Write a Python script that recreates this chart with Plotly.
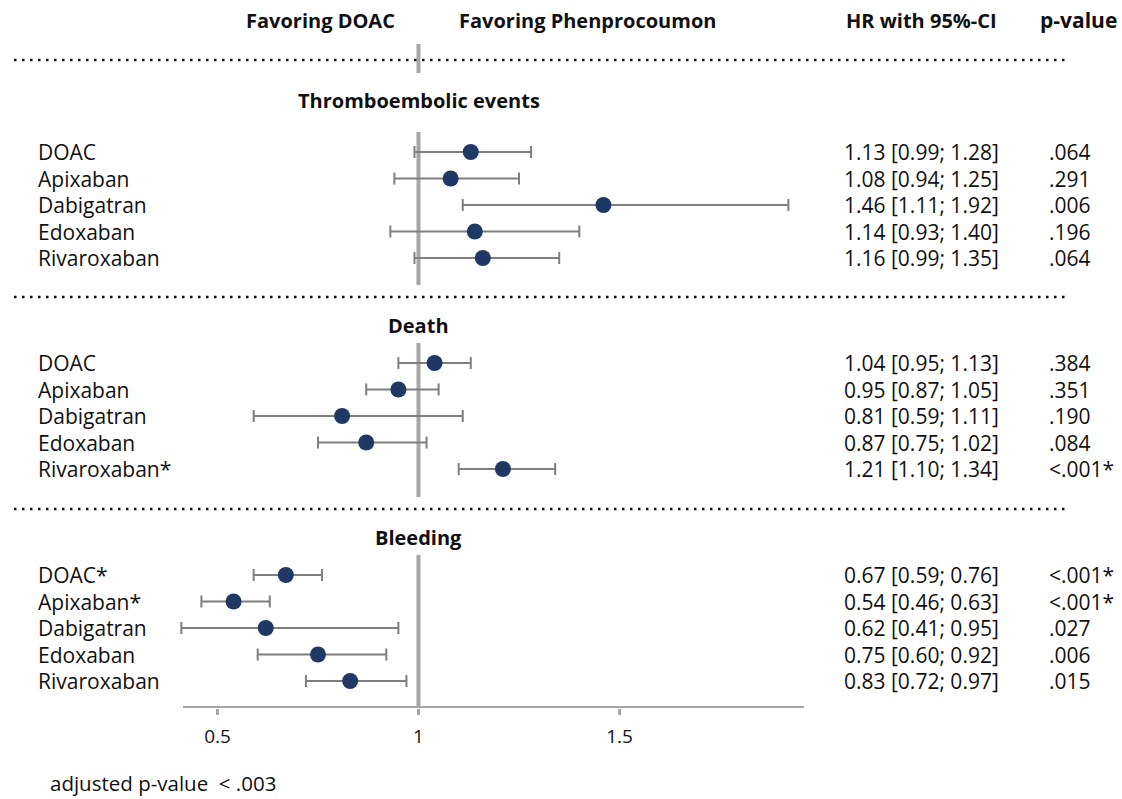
import plotly.graph_objects as go

# ---------------- data ----------------
section_titles = ["Thromboembolic events", "Death", "Bleeding"]

te_labels = ["DOAC", "Apixaban", "Dabigatran", "Edoxaban", "Rivaroxaban"]
te_hr = [1.13, 1.08, 1.46, 1.14, 1.16]
te_lo = [0.99, 0.94, 1.11, 0.93, 0.99]
te_hi = [1.28, 1.25, 1.92, 1.40, 1.35]
te_p = [".064", ".291", ".006", ".196", ".064"]

death_labels = ["DOAC", "Apixaban", "Dabigatran", "Edoxaban", "Rivaroxaban*"]
death_hr = [1.04, 0.95, 0.81, 0.87, 1.21]
death_lo = [0.95, 0.87, 0.59, 0.75, 1.10]
death_hi = [1.13, 1.05, 1.11, 1.02, 1.34]
death_p = [".384", ".351", ".190", ".084", "<.001*"]

bleed_labels = ["DOAC*", "Apixaban*", "Dabigatran", "Edoxaban", "Rivaroxaban"]
bleed_hr = [0.67, 0.54, 0.62, 0.75, 0.83]
bleed_lo = [0.59, 0.46, 0.41, 0.60, 0.72]
bleed_hi = [0.76, 0.63, 0.95, 0.92, 0.97]
bleed_p = ["<.001*", "<.001*", ".027", ".006", ".015"]

tick_vals = [0.5, 1, 1.5]
tick_text = ["0.5", "1", "1.5"]

header_left = "Favoring DOAC"
header_right = "Favoring Phenprocoumon"
header_hr = "HR with 95%-CI"
header_p = "p-value"
footnote = "adjusted p-value  < .003"

# ---------------- layout constants ----------------
W, H = 1122, 799
X_ONE = 418.5          # pixel of HR = 1
PX_PER_UNIT = 402.0    # pixels per HR unit
AXIS_Y = 708           # pixel row of the x axis line
FONT = "Open Sans"
BLACK = "#111111"
NAVY = "#1F3864"
BAR_GREY = "#7F7F7F"
REF_GREY = "#A6A6A6"
ROW_SIZE = 21
NUM_SIZE = 21
HDR_SIZE = 20

x_min = 1 - X_ONE / PX_PER_UNIT
x_max = 1 + (W - X_ONE) / PX_PER_UNIT

sections = [
    (te_labels, te_hr, te_lo, te_hi, te_p),
    (death_labels, death_hr, death_lo, death_hi, death_p),
    (bleed_labels, bleed_hr, bleed_lo, bleed_hi, bleed_p),
]
first_row_px = [152, 363, 575]
title_px = [100, 325, 537]
row_step = 26.5
dotted_px = [60, 297, 509]

fig = go.Figure()
annotations = []
shapes = []

def px2paper_x(px):
    return px / W

for s, (labels, hr, lo, hi, pv) in enumerate(sections):
    ys = [first_row_px[s] + i * row_step for i in range(len(labels))]
    fig.add_trace(go.Scatter(
        x=hr, y=ys, mode="markers",
        marker=dict(size=16, color=NAVY),
        error_x=dict(type="data", symmetric=False,
                     array=[h - m for h, m in zip(hi, hr)],
                     arrayminus=[m - l for m, l in zip(hr, lo)],
                     color=BAR_GREY, thickness=2, width=6),
        showlegend=False, hoverinfo="skip", cliponaxis=False,
    ))
    annotations.append(dict(x=1, y=title_px[s], xref="x", yref="y",
                            text=f"<b>{section_titles[s]}</b>", showarrow=False,
                            xanchor="center", yanchor="middle",
                            font=dict(family=FONT, size=HDR_SIZE, color=BLACK)))
    for i, y in enumerate(ys):
        annotations.append(dict(x=px2paper_x(36), y=y, xref="paper", yref="y",
                                text=labels[i], showarrow=False,
                                xanchor="left", yanchor="middle",
                                font=dict(family=FONT, size=ROW_SIZE, color=BLACK)))
        annotations.append(dict(x=px2paper_x(842), y=y, xref="paper", yref="y",
                                text=f"{hr[i]:.2f} [{lo[i]:.2f}; {hi[i]:.2f}]",
                                showarrow=False, xanchor="left", yanchor="middle",
                                font=dict(family=FONT, size=NUM_SIZE, color=BLACK)))
        annotations.append(dict(x=px2paper_x(1047), y=y, xref="paper", yref="y",
                                text=pv[i], showarrow=False,
                                xanchor="left", yanchor="middle",
                                font=dict(family=FONT, size=ROW_SIZE, color=BLACK)))

# reference line segments at HR = 1
ref_segments = [
    (44, 73),
    (first_row_px[0] - 20, first_row_px[0] + 4 * row_step + 27),
    (first_row_px[1] - 20, first_row_px[1] + 4 * row_step + 28),
    (first_row_px[2] - 20, AXIS_Y),
]
for y0, y1 in ref_segments:
    shapes.append(dict(type="line", xref="x", yref="y", x0=1, x1=1, y0=y0, y1=y1,
                       line=dict(color=REF_GREY, width=4), layer="below"))

# dotted separators
for y in dotted_px:
    shapes.append(dict(type="line", xref="paper", yref="y",
                       x0=px2paper_x(14), x1=px2paper_x(1066), y0=y, y1=y,
                       line=dict(color=BLACK, width=2.5, dash="2.5px,5.5px")))

# x axis line
shapes.append(dict(type="line", xref="x", yref="y",
                   x0=1 - (X_ONE - 183) / PX_PER_UNIT, x1=1 + (804 - X_ONE) / PX_PER_UNIT,
                   y0=AXIS_Y, y1=AXIS_Y, line=dict(color=REF_GREY, width=4)))

hdr_font = dict(family=FONT, size=HDR_SIZE, color=BLACK)
annotations += [
    dict(x=px2paper_x(320), y=20, xref="paper", yref="y", text=f"<b>{header_left}</b>",
         showarrow=False, xanchor="center", yanchor="middle", font=hdr_font),
    dict(x=px2paper_x(587), y=20, xref="paper", yref="y", text=f"<b>{header_right}</b>",
         showarrow=False, xanchor="center", yanchor="middle", font=hdr_font),
    dict(x=px2paper_x(921), y=20, xref="paper", yref="y", text=f"<b>{header_hr}</b>",
         showarrow=False, xanchor="center", yanchor="middle", font=hdr_font),
    dict(x=px2paper_x(1078), y=20, xref="paper", yref="y", text=f"<b>{header_p}</b>",
         showarrow=False, xanchor="center", yanchor="middle",
         font=dict(family=FONT, size=21, color=BLACK)),
    dict(x=px2paper_x(48), y=0, xref="paper", yref="paper", text=footnote,
         showarrow=False, xanchor="left", yanchor="bottom",
         font=dict(family=FONT, size=20.5, color=BLACK)),
]

fig.update_layout(
    width=W, height=H,
    margin=dict(l=0, r=0, t=0, b=0),
    paper_bgcolor="white", plot_bgcolor="white",
    xaxis=dict(range=[x_min, x_max], domain=[0, 1],
               showgrid=False, zeroline=False, showline=False,
               tickmode="array", tickvals=tick_vals, ticktext=tick_text,
               ticks="outside", ticklen=6, tickwidth=3, tickcolor=REF_GREY,
               ticklabelstandoff=5,
               tickfont=dict(family=FONT, size=19, color=BLACK), fixedrange=True),
    yaxis=dict(range=[AXIS_Y, 0], domain=[(H - AXIS_Y) / H, 1],
               showgrid=False, zeroline=False, showline=False,
               showticklabels=False, fixedrange=True),
    annotations=annotations, shapes=shapes,
)

fig.write_html("out.html", config={"displayModeBar": False},
               post_script="document.body.style.margin='0px';document.body.style.overflow='hidden';")
